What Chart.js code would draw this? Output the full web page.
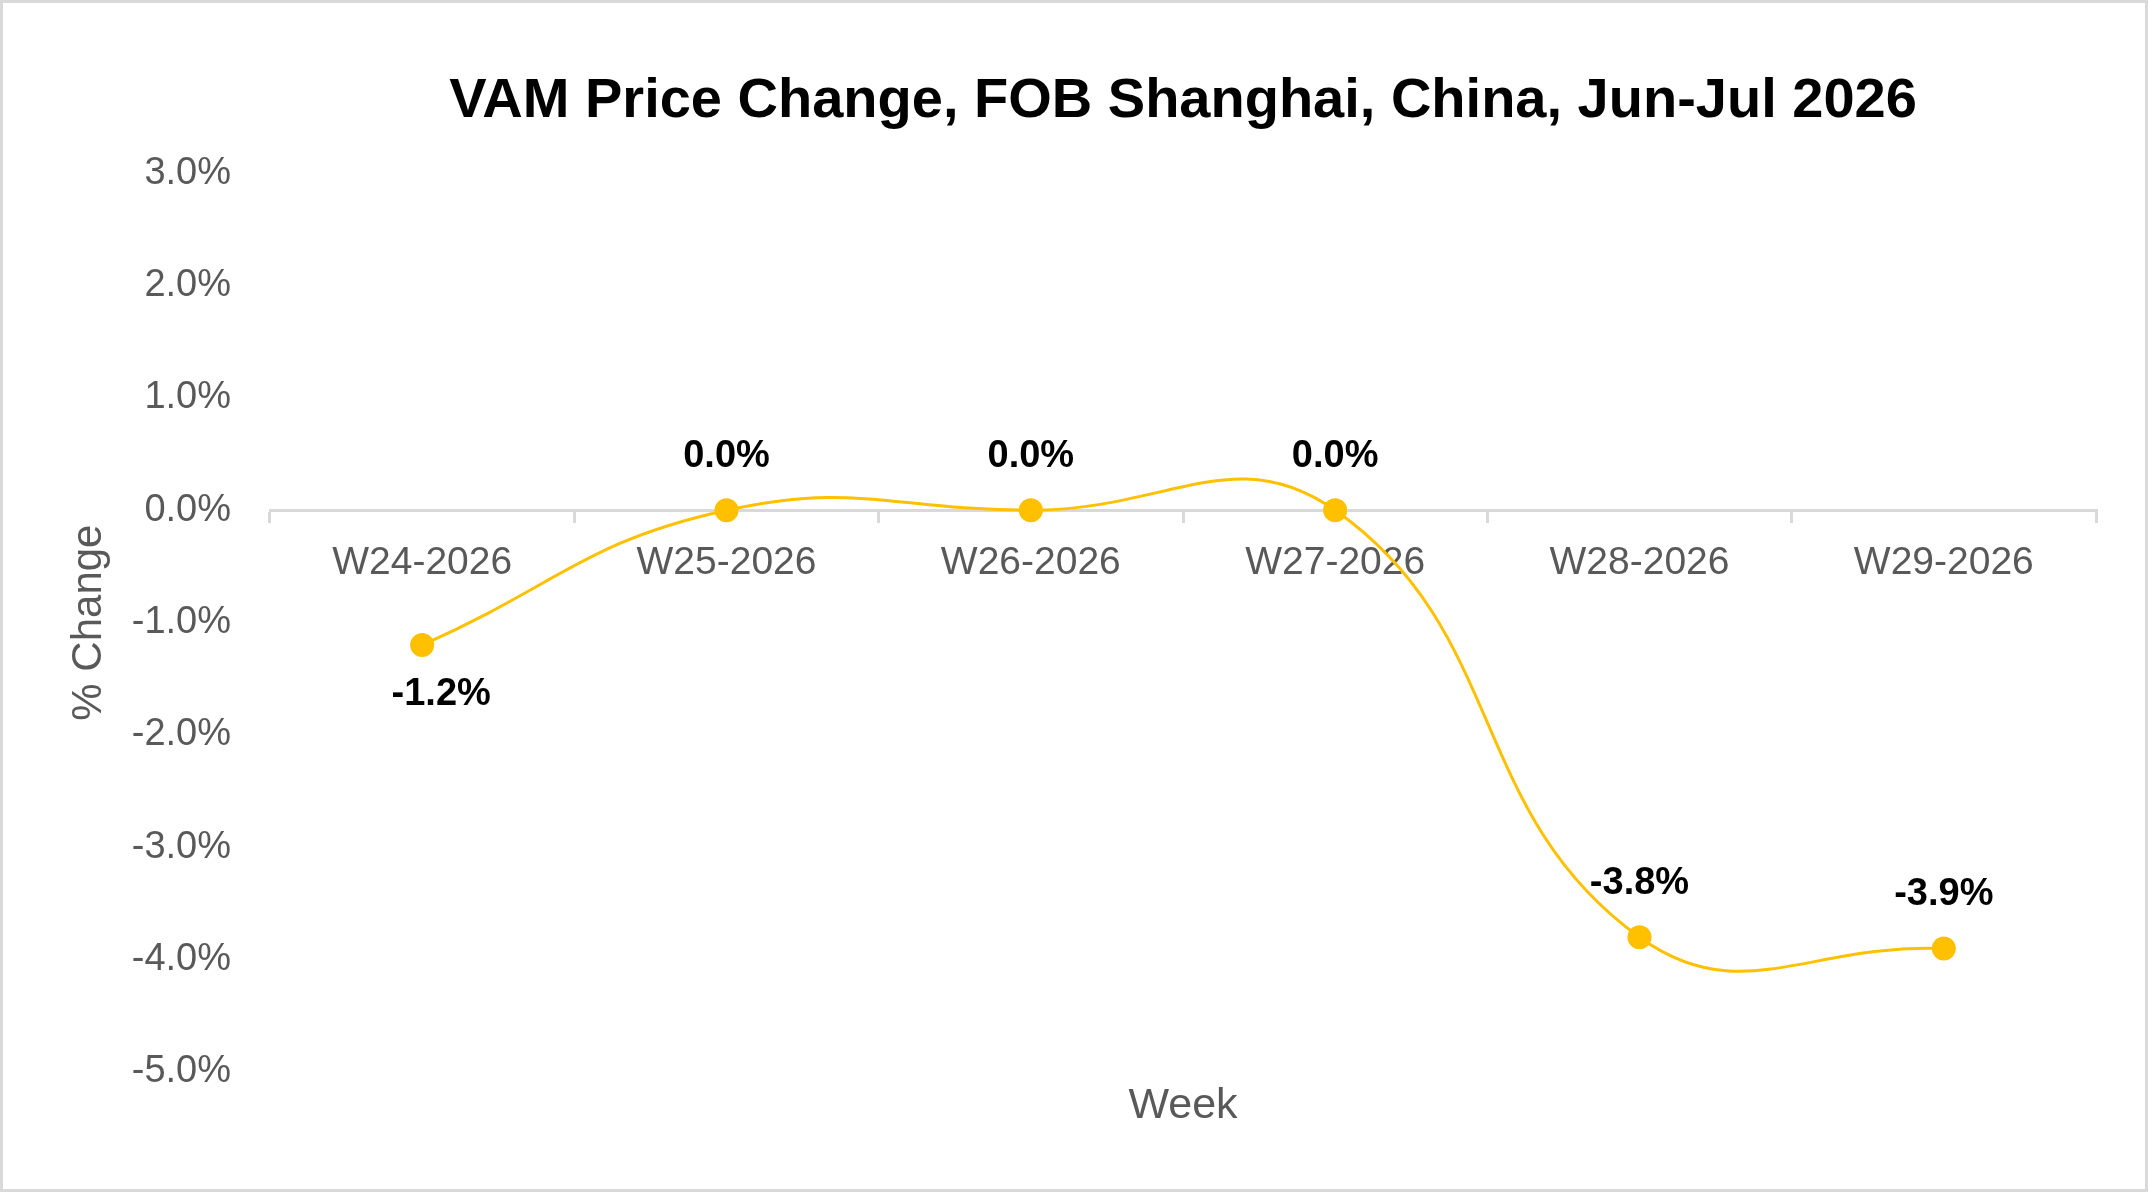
<!DOCTYPE html>
<html>
<head>
<meta charset="utf-8">
<script src="https://cdn.jsdelivr.net/npm/chart.js@4"></script>
<style>
    html, body { margin: 0; padding: 0; background: #fff; }
    #wrap {
        width: 2148px;
        height: 1192px;
        box-sizing: border-box;
        border: 3px solid #d9d9d9;
        background: #fff;
    }
    canvas { display: block; }
</style>
</head>
<body>
<div id="wrap"><canvas id="chart" width="2142" height="1186"></canvas></div>
<script>
const weeks = ['W24-2026', 'W25-2026', 'W26-2026', 'W27-2026', 'W28-2026', 'W29-2026'];
const priceChange = [-1.2, 0.0, 0.0, 0.0, -3.8, -3.9];
const yTicks = [-5, -4, -3, -2, -1, 0, 1, 2, 3];

const FONT = "'Liberation Sans', Arial, sans-serif";
const GREY = '#595959';
const AXIS = '#d9d9d9';
const LINE = '#FFC000';

// data labels drawn next to each marker (Excel style)
const pointLabels = {
    id: 'pointLabels',
    afterDatasetsDraw(chart) {
        const ctx = chart.ctx;
        const meta = chart.getDatasetMeta(0);
        const values = chart.data.datasets[0].data;
        ctx.save();
        ctx.font = 'bold 38px ' + FONT;
        ctx.fillStyle = '#000';
        ctx.textAlign = 'center';
        ctx.textBaseline = 'middle';
        meta.data.forEach((pt, i) => {
            const v = values[i];
            const below = i === 0;
            const x = pt.x + (below ? 19 : 0);
            const y = below ? pt.y + 49 : pt.y - 54;
            ctx.fillText(v.toFixed(1) + '%', x, y);
        });
        ctx.restore();
    }
};

const ctx = document.getElementById('chart').getContext('2d');
new Chart(ctx, {
    type: 'line',
    data: {
        labels: weeks,
        datasets: [{
            label: '% Change',
            data: priceChange,
            borderColor: LINE,
            backgroundColor: LINE,
            borderWidth: 3,
            tension: 0.45,
            pointRadius: 12,
            pointBorderWidth: 0,
            pointBackgroundColor: LINE,
            fill: false
        }]
    },
    options: {
        responsive: false,
        animation: false,
        devicePixelRatio: 1,
        layout: {
            padding: { left: 0, right: 49, top: 0, bottom: 0 }
        },
        plugins: {
            legend: { display: false },
            tooltip: { enabled: false },
            title: {
                display: true,
                fullSize: false,
                text: 'VAM Price Change, FOB Shanghai, China, Jun-Jul 2026',
                color: '#000',
                font: { family: FONT, size: 56, weight: 'bold', lineHeight: 1.2 },
                padding: { top: 65, bottom: 38 }
            }
        },
        scales: {
            x: {
                type: 'category',
                position: { y: 0 },
                offset: true,
                grid: {
                    offset: true,
                    drawOnChartArea: false,
                    drawTicks: true,
                    tickLength: 11,
                    color: AXIS,
                    lineWidth: 3
                },
                border: { display: true, color: AXIS, width: 3 },
                ticks: {
                    color: GREY,
                    padding: 19,
                    maxRotation: 0,
                    font: { family: FONT, size: 39 }
                }
            },
            x2: {
                type: 'category',
                position: 'bottom',
                labels: weeks,
                offset: true,
                grid: { display: false },
                border: { display: false },
                ticks: { display: false },
                title: {
                    display: true,
                    text: 'Week',
                    color: GREY,
                    font: { family: FONT, size: 43 },
                    padding: { top: 0, bottom: 57 }
                },
                afterFit(scale) { scale.height = 117; }
            },
            y: {
                min: yTicks[0],
                max: yTicks[yTicks.length - 1],
                afterBuildTicks(scale) {
                    scale.ticks = yTicks.map(v => ({ value: v }));
                },
                grid: { display: false, drawTicks: false },
                border: { display: false },
                ticks: {
                    color: GREY,
                    padding: 39,
                    font: { family: FONT, size: 38 },
                    callback: v => Number(v).toFixed(1) + '%'
                },
                title: {
                    display: true,
                    text: '% Change',
                    color: GREY,
                    font: { family: FONT, size: 42 },
                    padding: { top: 61, bottom: 0 }
                },
                afterFit(scale) { scale.width = 267; }
            }
        }
    },
    plugins: [pointLabels]
});
</script>
</body>
</html>
